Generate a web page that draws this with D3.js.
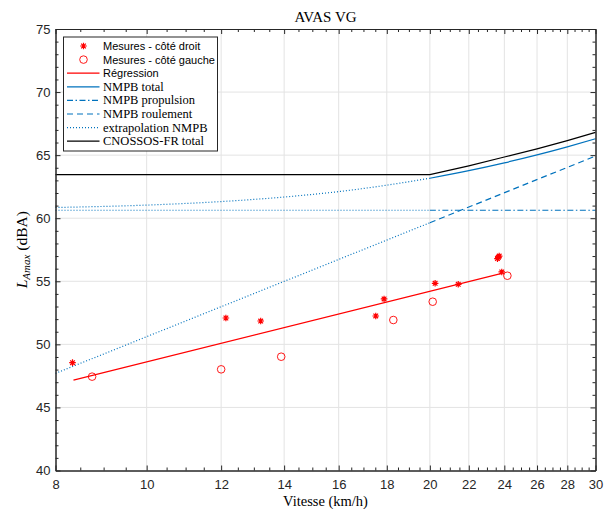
<!DOCTYPE html>
<html>
<head>
<meta charset="utf-8">
<script src="https://cdn.jsdelivr.net/npm/d3@7"></script>
<style>
  body { margin: 0; background: #fff; }
  svg { display: block; }
  .tick text { font-family: "Liberation Sans", Arial, sans-serif; font-size: 13px; fill: #262626; }
</style>
</head>
<body>
<svg width="610" height="509"></svg>
<script>
// measured points (speed km/h, level dBA)
const droitV = [8.34, 12.14, 13.22, 17.52, 17.88, 20.26, 21.44, 23.6, 23.65, 23.7, 23.85];
const droitL = [48.55, 52.09, 51.85, 52.25, 53.6, 54.84, 54.76, 56.8, 56.9, 57.0, 55.74];
const gaucheV = [8.75, 12.0, 13.9, 18.29, 20.14, 24.18];
const gaucheL = [47.44, 48.02, 49.02, 51.93, 53.38, 55.44];

// regression
const regV = [8.36, 23.85];
const regL = [47.17, 55.63];

// NMPB model
const propV = [20, 30];
const propL = [60.63, 60.63];
const roulV = [20, 30];
const roulL = [59.64, 64.93];
const totV = [20, 22, 24, 26, 28, 30];
const totL = [63.17, 63.77, 64.39, 65.02, 65.66, 66.30];

// NMPB extrapolation below 20 km/h
const exPropV = [8, 20];
const exPropL = [60.63, 60.63];
const exRoulV = [8, 20];
const exRoulL = [47.70, 59.64];
const exTotV = [8, 10, 12, 14, 16, 18, 20];
const exTotL = [60.85, 61.04, 61.32, 61.68, 62.11, 62.62, 63.17];

// CNOSSOS-FR
const cnV = [8, 20, 22, 24, 26, 28, 30];
const cnL = [63.45, 63.45, 64.15, 64.85, 65.5, 66.15, 66.8];

// ticks
const xMajor = [8, 10, 12, 14, 16, 18, 20, 22, 24, 26, 28, 30];
const xMinor = d3.range(8.5, 30, 0.5).filter(v => v % 2 !== 0);
const yMajor = [40, 45, 50, 55, 60, 65, 70, 75];
const yMinor = d3.range(41, 75, 1).filter(v => v % 5 !== 0);

const svg = d3.select('svg');
const pL = 55.5, pR = 595.5, pT = 29, pB = 470.5;
const blue = '#0072BD', red = '#FF0000', axisCol = '#262626';

const x = d3.scaleLog().domain([8, 30]).range([pL, pR]);
const y = d3.scaleLinear().domain([40, 75]).range([pB, pT]);

// grid
const grid = svg.append('g').attr('stroke', '#e3e3e3').attr('stroke-width', 1);
grid.selectAll('.gx').data(xMajor.slice(1, -1)).join('line')
  .attr('x1', d => x(d)).attr('x2', d => x(d)).attr('y1', pT).attr('y2', pB);
grid.selectAll('.gy').data(yMajor.slice(1, -1)).join('line')
  .attr('y1', d => y(d)).attr('y2', d => y(d)).attr('x1', pL).attr('x2', pR);

const zip = (a, b) => a.map((v, i) => [v, b[i]]);
const line = d3.line().x(d => x(d[0])).y(d => y(d[1]));
const curve = d3.line().x(d => x(d[0])).y(d => y(d[1])).curve(d3.curveMonotoneX);

function path(g, data, color, dash, gen) {
  g.append('path').attr('d', (gen || line)(data))
    .attr('fill', 'none').attr('stroke', color).attr('stroke-width', 1.2)
    .attr('stroke-dasharray', dash);
}

const plot = svg.append('g');
path(plot, zip(exPropV, exPropL), blue, '1,2');
path(plot, zip(exRoulV, exRoulL), blue, '1,2');
path(plot, zip(exTotV, exTotL), blue, '1,2', curve);
path(plot, zip(propV, propL), blue, '6,2.5,1.5,2.5');
path(plot, zip(roulV, roulL), blue, '6,4');
path(plot, zip(totV, totL), blue, null, curve);
path(plot, zip(cnV, cnL), '#000', null);
path(plot, zip(regV, regL), red, null);

function star(g, cx, cy, s) {
  const p = `M${cx - s},${cy}L${cx + s},${cy}M${cx},${cy - s}L${cx},${cy + s}` +
    `M${cx - s * 0.7},${cy - s * 0.7}L${cx + s * 0.7},${cy + s * 0.7}` +
    `M${cx - s * 0.7},${cy + s * 0.7}L${cx + s * 0.7},${cy - s * 0.7}`;
  g.append('path').attr('d', p).attr('stroke', red).attr('stroke-width', 1.2).attr('fill', 'none');
}
zip(droitV, droitL).forEach(d => star(plot, x(d[0]), y(d[1]), 3.3));
plot.selectAll('.circ').data(zip(gaucheV, gaucheL)).join('circle')
  .attr('cx', d => x(d[0])).attr('cy', d => y(d[1])).attr('r', 3.8)
  .attr('fill', 'none').attr('stroke', red).attr('stroke-width', 0.9);

// axes with inward ticks
function axes() {
  const fmt = d3.format('d');
  const b = svg.append('g').attr('transform', `translate(0,${pB})`)
    .call(d3.axisBottom(x).tickValues(xMajor).tickFormat(fmt).tickSizeInner(-5).tickSizeOuter(0).tickPadding(9));
  const bm = svg.append('g').attr('transform', `translate(0,${pB})`)
    .call(d3.axisBottom(x).tickValues(xMinor).tickFormat('').tickSizeInner(-3).tickSizeOuter(0));
  const t = svg.append('g').attr('transform', `translate(0,${pT})`)
    .call(d3.axisTop(x).tickValues(xMajor).tickFormat('').tickSizeInner(-5).tickSizeOuter(0));
  const tm = svg.append('g').attr('transform', `translate(0,${pT})`)
    .call(d3.axisTop(x).tickValues(xMinor).tickFormat('').tickSizeInner(-3).tickSizeOuter(0));
  const l = svg.append('g').attr('transform', `translate(${pL},0)`)
    .call(d3.axisLeft(y).tickValues(yMajor).tickFormat(fmt).tickSizeInner(-5).tickSizeOuter(0).tickPadding(5));
  const lm = svg.append('g').attr('transform', `translate(${pL},0)`)
    .call(d3.axisLeft(y).tickValues(yMinor).tickFormat('').tickSizeInner(-3).tickSizeOuter(0));
  const r = svg.append('g').attr('transform', `translate(${pR},0)`)
    .call(d3.axisRight(y).tickValues(yMajor).tickFormat('').tickSizeInner(-5).tickSizeOuter(0));
  const rm = svg.append('g').attr('transform', `translate(${pR},0)`)
    .call(d3.axisRight(y).tickValues(yMinor).tickFormat('').tickSizeInner(-3).tickSizeOuter(0));
  [b, bm, t, tm, l, lm, r, rm].forEach(g => {
    g.selectAll('line').attr('stroke', axisCol);
    g.selectAll('.domain').attr('stroke', axisCol);
  });
}
axes();

// titles
const serif = '"Liberation Serif", "DejaVu Serif", serif';
svg.append('text').attr('x', (pL + pR) / 2).attr('y', 22).attr('text-anchor', 'middle')
  .attr('font-family', serif).attr('font-size', 15).attr('fill', '#000').text('AVAS VG');
svg.append('text').attr('x', (pL + pR) / 2).attr('y', 506).attr('text-anchor', 'middle')
  .attr('font-family', serif).attr('font-size', 14.5).attr('fill', '#000').text('Vitesse (km/h)');
const yl = svg.append('text').attr('transform', `translate(27,${(pT + pB) / 2}) rotate(-90)`)
  .attr('text-anchor', 'middle').attr('font-family', serif).attr('font-size', 15.5).attr('fill', '#000');
yl.append('tspan').attr('font-style', 'italic').text('L');
yl.append('tspan').attr('font-style', 'italic').attr('font-size', 11).attr('dy', 3).text('Amax');
yl.append('tspan').attr('dy', -3).text(' (dBA)');

// legend
const legItems = [
  {label: 'Mesures - côté droit', type: 'star', sans: true},
  {label: 'Mesures - côté gauche', type: 'circle', sans: true},
  {label: 'Régression', type: 'line', color: red, sans: true},
  {label: 'NMPB total', type: 'line', color: blue},
  {label: 'NMPB propulsion', type: 'line', color: blue, dash: '6,2.5,1.5,2.5'},
  {label: 'NMPB roulement', type: 'line', color: blue, dash: '6,4'},
  {label: 'extrapolation NMPB', type: 'line', color: blue, dash: '1,2'},
  {label: 'CNOSSOS-FR total', type: 'line', color: '#000'}
];
const leg = svg.append('g');
leg.append('rect').attr('x', 63.5).attr('y', 37).attr('width', 154).attr('height', 114)
  .attr('fill', '#fff').attr('stroke', axisCol).attr('stroke-width', 1);
legItems.forEach((d, i) => {
  const cy = 46 + i * 13.6;
  if (d.type === 'star') star(leg, 83.5, cy, 3.3);
  else if (d.type === 'circle') leg.append('circle').attr('cx', 83.5).attr('cy', cy).attr('r', 3.8)
    .attr('fill', 'none').attr('stroke', red).attr('stroke-width', 0.9);
  else leg.append('line').attr('x1', 67).attr('x2', 99.5).attr('y1', cy).attr('y2', cy)
    .attr('stroke', d.color).attr('stroke-width', 1.2).attr('stroke-dasharray', d.dash || null);
  leg.append('text').attr('x', 103).attr('y', cy + 4)
    .attr('font-family', d.sans ? '"Liberation Sans", Arial, sans-serif' : serif)
    .attr('font-size', d.sans ? 11 : 12.5).attr('fill', '#000').text(d.label);
});
</script>
</body>
</html>
